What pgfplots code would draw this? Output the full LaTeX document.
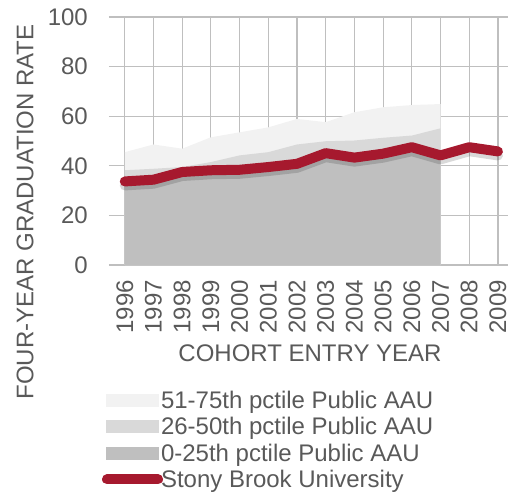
\documentclass[border=0pt]{standalone}
\usepackage{fontspec}
\setmainfont{Liberation Sans}
\usepackage{pgfplots}
\pgfplotsset{compat=1.18}
\definecolor{sbred}{RGB}{166,25,46}
\definecolor{txt}{RGB}{89,89,89}
\definecolor{gLight}{RGB}{242,242,242}
\definecolor{gMid}{RGB}{217,217,217}
\definecolor{gDark}{RGB}{191,191,191}
\definecolor{grid}{RGB}{217,217,217}

\begin{document}
\begin{tikzpicture}
\begin{axis}[
  name=ax,
  scale only axis,
  width=399bp, height=248bp,
  xmin=1995.45, xmax=2009.35,
  ymin=0, ymax=100,
  xtick={1996,1997,...,2009},
  ytick={0,20,...,100},
  ymajorgrids,
  grid style={grid, line width=1.2bp},
  axis line style={draw=none},
  major tick length=0pt,
  /pgf/number format/1000 sep={},
  /pgf/number format/assume math mode=true,
  tick label style={font=\fontsize{24bp}{28bp}\selectfont, text=txt},
  xticklabel style={rotate=90, anchor=east, inner sep=0pt},
  xticklabel shift=15bp,
  yticklabel style={anchor=east, inner sep=0pt},
  yticklabel shift=21bp,
  clip=false,
  legend cell align=left,
  legend style={draw=none, fill=none, inner sep=0pt, outer sep=0pt,
    at={(axis description cs:-0.0125,-0.502)}, anchor=north west,
    font=\fontsize{24bp}{28bp}\selectfont, text=txt,
    row sep=-0.7bp,
    nodes={inner sep=0pt, text height=19bp, text depth=8bp},
    /tikz/every odd column/.append style={column sep=0bp}},
]
\addplot[fill=gLight, draw=none,
  legend image code/.code={\path[draw=none, fill=none] (0bp,0bp) -- (57bp,0bp);
    \fill[gLight] (2bp,-4bp) rectangle (55bp,9bp);}]
  coordinates {(1996,45.5) (1997,48.6) (1998,46.9) (1999,51.5) (2000,53.5)
    (2001,55.5) (2002,58.9) (2003,57.6) (2004,61.6) (2005,63.6) (2006,64.5)
    (2007,64.9)} \closedcycle;
\addplot[fill=gMid, draw=none,
  legend image code/.code={\path[draw=none, fill=none] (0bp,0bp) -- (57bp,0bp);
    \fill[gMid] (2bp,-4bp) rectangle (55bp,9bp);}]
  coordinates {(1996,38.2) (1997,38.8) (1998,39.5) (1999,41.5) (2000,44.2)
    (2001,45.5) (2002,48.6) (2003,49.9) (2004,50.2) (2005,51.3) (2006,52.2)
    (2007,55.1)} \closedcycle;
\addplot[fill=gDark, draw=none,
  legend image code/.code={\path[draw=none, fill=none] (0bp,0bp) -- (57bp,0bp);
    \fill[gDark] (2bp,-4bp) rectangle (55bp,9bp);}]
  coordinates {(1996,32.0) (1997,32.8) (1998,35.8) (1999,36.5) (2000,36.8)
    (2001,37.8) (2002,39.0) (2003,43.2) (2004,41.5) (2005,43.0) (2006,45.5)
    (2007,42.3)} \closedcycle;
\addplot[forget plot, black, opacity=0.15, line width=10bp, yshift=-4bp,
  line join=round, line cap=round]
  coordinates {(1996,33.7) (1997,34.4) (1998,37.5) (1999,38.2) (2000,38.4)
    (2001,39.5) (2002,40.8) (2003,45.1) (2004,43.3) (2005,44.9) (2006,47.5)
    (2007,44.2) (2008,47.5) (2009,45.8)};
\addplot[sbred, line width=10bp, line join=round, line cap=round,
  legend image code/.code={\path[draw=none, fill=none] (0bp,0bp) -- (57bp,0bp);
    \draw[overlay, sbred, line width=10bp, line cap=round] (3bp,2.5bp) -- (54bp,2.5bp);}]
  coordinates {(1996,33.7) (1997,34.4) (1998,37.5) (1999,38.2) (2000,38.4)
    (2001,39.5) (2002,40.8) (2003,45.1) (2004,43.3) (2005,44.9) (2006,47.5)
    (2007,44.2) (2008,47.5) (2009,45.8)};
\legend{51-75th pctile Public AAU, 26-50th pctile Public AAU,
  0-25th pctile Public AAU, Stony Brook University}
\end{axis}
\node[rotate=90, text=txt, font=\fontsize{24bp}{28bp}\selectfont, inner sep=0pt]
  at ([xshift=-84bp, yshift=53bp]ax.south west) {FOUR-YEAR GRADUATION RATE};
\node[text=txt, font=\fontsize{24bp}{28bp}\selectfont, inner sep=0pt]
  at ([xshift=201bp, yshift=-88bp]ax.south west) {COHORT ENTRY YEAR};
\pgfresetboundingbox
\path[use as bounding box] ([xshift=-109bp, yshift=-227bp]ax.south west)
  rectangle ([xshift=-109bp, yshift=-227bp]ax.south west) ++(508bp,492bp);
\end{tikzpicture}
\end{document}
